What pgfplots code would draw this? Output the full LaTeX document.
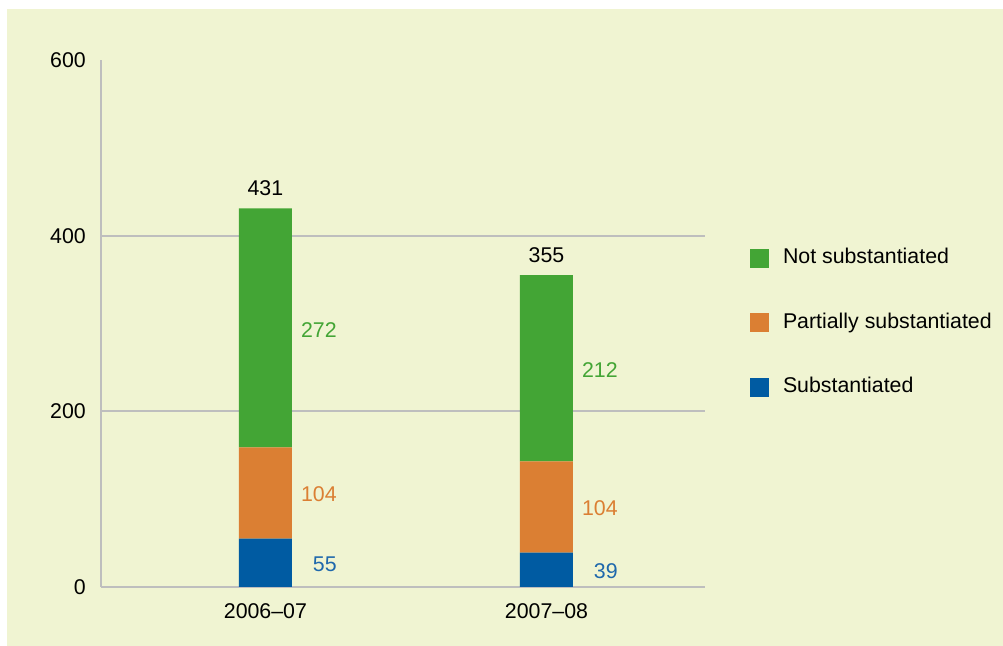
\documentclass[border=0pt]{standalone}
\usepackage{pgfplots}
\pgfplotsset{compat=1.18}
\usepackage{fontspec}
\setmainfont{Liberation Sans}
\definecolor{bg}{HTML}{F0F4D2}
\definecolor{gridc}{HTML}{BEBEBE}
\definecolor{cgreen}{HTML}{43A535}
\definecolor{corange}{HTML}{DB7F33}
\definecolor{cblue}{HTML}{005BA2}
\definecolor{lblue}{HTML}{1F68AC}
\newcommand{\fs}{\fontsize{16pt}{19pt}\selectfont}
\begin{document}
\begin{tikzpicture}
\fill[white] (-75.75pt,-44.25pt) rectangle (676.5pt,440.25pt);
\fill[bg] (-70.5pt,-44.25pt) rectangle (676.5pt,433.5pt);
\begin{axis}[
  at={(0,0)}, anchor=south west,
  scale only axis, width=453pt, height=395.25pt,
  xmin=-0.585, xmax=1.564, ymin=0, ymax=600,
  ybar stacked, bar width=39.75pt,
  axis lines*=left, axis line style={-, draw=gridc, line width=1.5pt},
  xtick={0,1}, xticklabels={2006--07,2007--08},
  ytick={0,200,400}, extra y ticks={600}, extra y tick style={grid=none},
  ymajorgrids, grid style={draw=gridc, line width=1.5pt},
  major tick length=0pt, tick style={draw=none},
  /pgf/number format/assume math mode=true,
  tick label style={font=\fs},
  yticklabel style={inner sep=0pt, xshift=-11.25pt},
  xticklabel style={inner sep=0pt, yshift=-12pt},
  legend style={at={(axis description cs:1.0745,0.6429)}, anchor=north west,
    draw=none, fill=none, inner sep=0pt, outer sep=0pt, font=\fs,
    nodes={inner sep=0pt, text height=11.5pt, text depth=3.5pt},
    row sep=33.5pt, column sep=10.5pt},
  legend cell align=left,
  legend image code/.code={\fill[#1] (0pt,-7.125pt) rectangle (14.25pt,7.125pt);},
  reverse legend,
]
\addplot[fill=cblue, draw=none] coordinates {(0,55) (1,39)};
\addlegendentry{Substantiated}
\addplot[fill=corange, draw=none] coordinates {(0,104) (1,104)};
\addlegendentry{Partially substantiated}
\addplot[fill=cgreen, draw=none] coordinates {(0,272) (1,212)};
\addlegendentry{Not substantiated}
\end{axis}
\begin{axis}[
  at={(0,0)}, anchor=south west,
  scale only axis, width=453pt, height=395.25pt,
  xmin=-0.585, xmax=1.564, ymin=0, ymax=600,
  hide axis, clip=false,
]
\addplot[draw=none, mark=none, nodes near coords, point meta=explicit symbolic,
  every node near coord/.append style={anchor=east, inner sep=0pt, font=\fs, text=cgreen}]
  table[meta=label] {
x y label
0.2544 293 272
1.2544 247 212
};
\addplot[draw=none, mark=none, nodes near coords, point meta=explicit symbolic,
  every node near coord/.append style={anchor=east, inner sep=0pt, font=\fs, text=corange}]
  table[meta=label] {
x y label
0.2544 106 104
1.2544 90 104
};
\addplot[draw=none, mark=none, nodes near coords, point meta=explicit symbolic,
  every node near coord/.append style={anchor=east, inner sep=0pt, font=\fs, text=lblue}]
  table[meta=label] {
x y label
0.2544 26 55
1.2544 17.5 39
};
\addplot[draw=none, mark=none, nodes near coords, point meta=explicit symbolic,
  every node near coord/.append style={anchor=south, inner sep=0pt, yshift=9pt, font=\fs, text=black}]
  table[meta=label] {
x y label
0 431 431
1 355 355
};
\end{axis}
\end{tikzpicture}
\end{document}
